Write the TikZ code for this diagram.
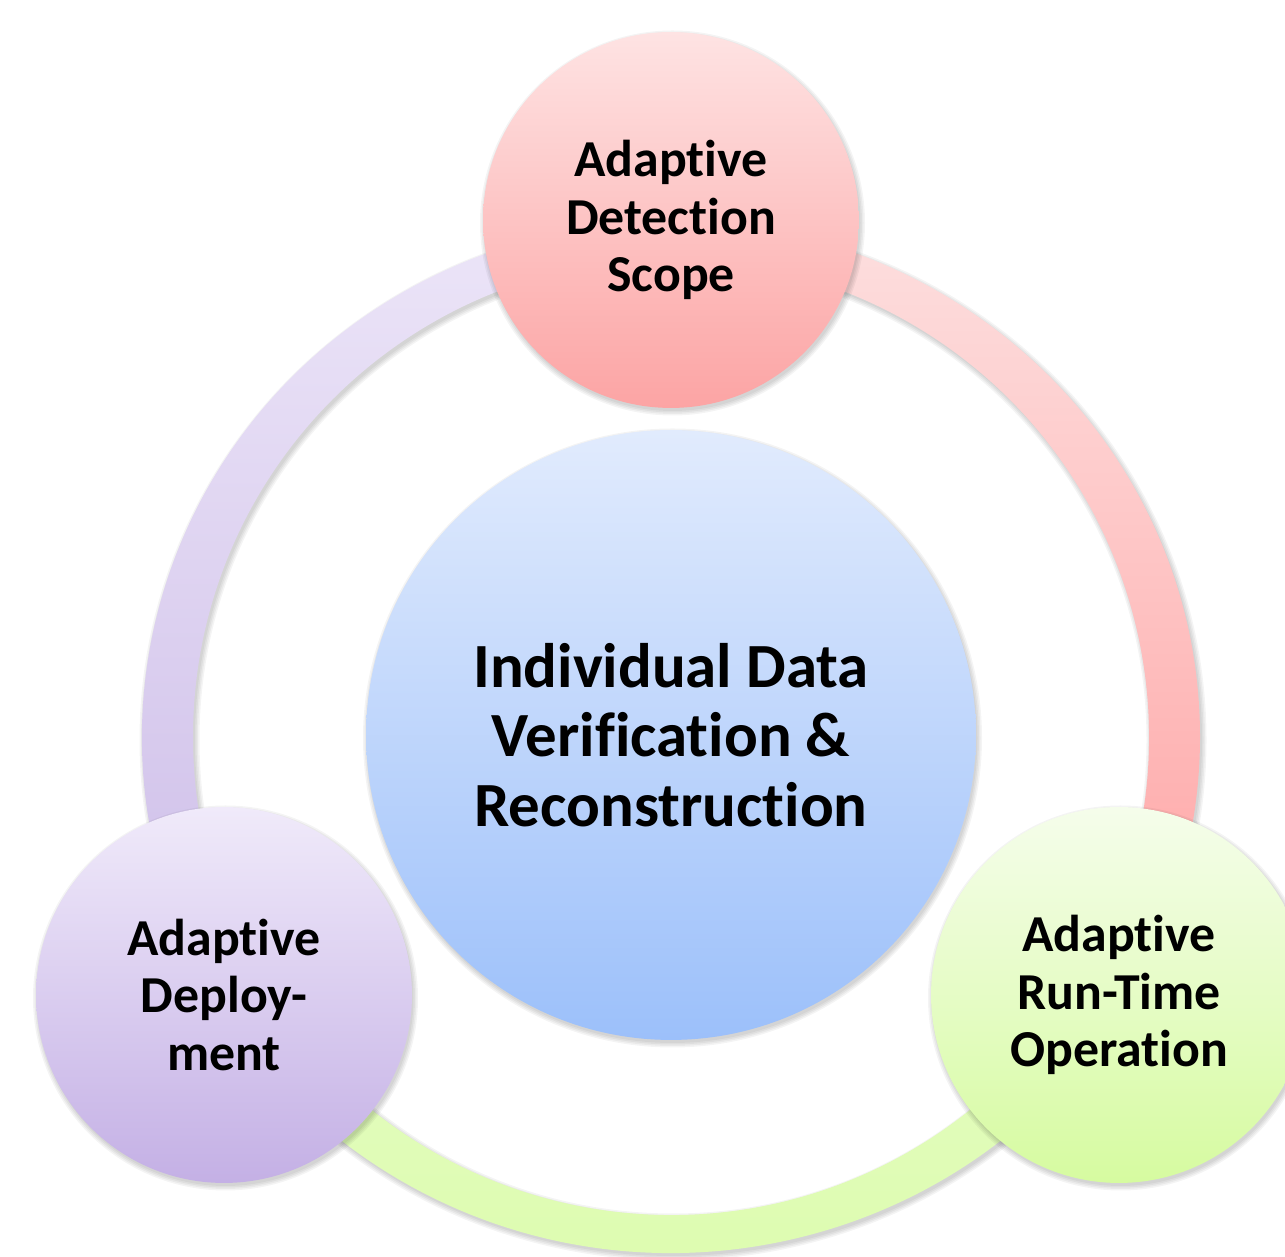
\documentclass[tikz,border=0pt]{standalone}
\usepackage{fontspec}
\setmainfont{Carlito}[Ligatures=NoCommon]
\usetikzlibrary{calc}

% ring sector colours
\definecolor{ringPinkT}{RGB}{253,223,223}
\definecolor{ringPinkB}{RGB}{255,163,163}
\definecolor{ringLilacT}{RGB}{236,229,248}
\definecolor{ringLilacB}{RGB}{205,189,232}
\definecolor{ringGreenT}{RGB}{228,252,194}
\definecolor{ringGreenB}{RGB}{220,252,172}
% bubble colours
\definecolor{scopeT}{RGB}{254,227,227}
\definecolor{scopeB}{RGB}{252,164,164}
\definecolor{coreT}{RGB}{225,235,253}
\definecolor{coreB}{RGB}{156,192,250}
\definecolor{deployT}{RGB}{240,234,250}
\definecolor{deployB}{RGB}{196,176,229}
\definecolor{runT}{RGB}{245,253,235}
\definecolor{runB}{RGB}{214,251,160}

\begin{document}
\begin{tikzpicture}[x=0.02cm, y=0.02cm,
  bubble/.style={circle, inner sep=0pt, align=center, text=black},
  small bubble/.style={bubble, minimum size=7.52cm,
    font=\fontsize{29.5}{32.8}\selectfont\bfseries},
  big bubble/.style={bubble, minimum size=12.2cm,
    font=\fontsize{35.8}{39.4}\selectfont\bfseries},
  shadow layer/.style={fill=black, opacity=0.045}]

\useasboundingbox (0,0) rectangle (1285,1257);
\fill[white] (0,0) rectangle (1285,1257);

% centres
\coordinate (hub) at (671,520);
\coordinate (cscope) at (671,1037);
\coordinate (ccore) at (671,522);
\coordinate (cdeploy) at (224,262);
\coordinate (crun) at (1119,262);

% soft shadow under the ring
\foreach \d in {0,1.5,3,4.5}{
  \fill[shadow layer, even odd rule]
    ($(hub)+(2,-3)$) ellipse[x radius=529+\d, y radius=516+\d]
    ($(hub)+(2,-3)$) circle[radius=478-\d];
}

% ring sectors
\shade[top color=ringPinkT, bottom color=ringPinkB]
  ($(hub)+(90:529 and 516)$) arc[start angle=90, end angle=-30, x radius=529, y radius=516]
  -- ($(hub)+(-30:478)$) arc[start angle=-30, end angle=90, radius=478] -- cycle;
\shade[top color=ringGreenT, bottom color=ringGreenB]
  ($(hub)+(-30:529 and 516)$) arc[start angle=-30, end angle=-150, x radius=529, y radius=516]
  -- ($(hub)+(-150:478)$) arc[start angle=-150, end angle=-30, radius=478] -- cycle;
\shade[top color=ringLilacT, bottom color=ringLilacB]
  ($(hub)+(210:529 and 516)$) arc[start angle=210, end angle=90, x radius=529, y radius=516]
  -- ($(hub)+(90:478)$) arc[start angle=90, end angle=210, radius=478] -- cycle;

% bubble shadows
\foreach \c/\r in {cscope/188, cdeploy/188, crun/188, ccore/305}{
  \foreach \d in {0,1.5,3,4.5}{
    \fill[shadow layer] ($(\c)+(1.5,-3)$) circle[radius=\r+\d];
  }
}

% bubbles
\node[big bubble, top color=coreT, bottom color=coreB] (core) at (ccore)
  {Individual Data\\Verification \&\\Reconstruction};
\node[small bubble, top color=scopeT, bottom color=scopeB] (scope) at (cscope)
  {Adaptive\\Detection\\Scope};
\node[small bubble, top color=deployT, bottom color=deployB] (deploy) at (cdeploy)
  {Adaptive\\Deploy-\\ment};
\node[small bubble, top color=runT, bottom color=runB] (run) at (crun)
  {Adaptive\\Run-Time\\Operation};
\end{tikzpicture}
\end{document}
